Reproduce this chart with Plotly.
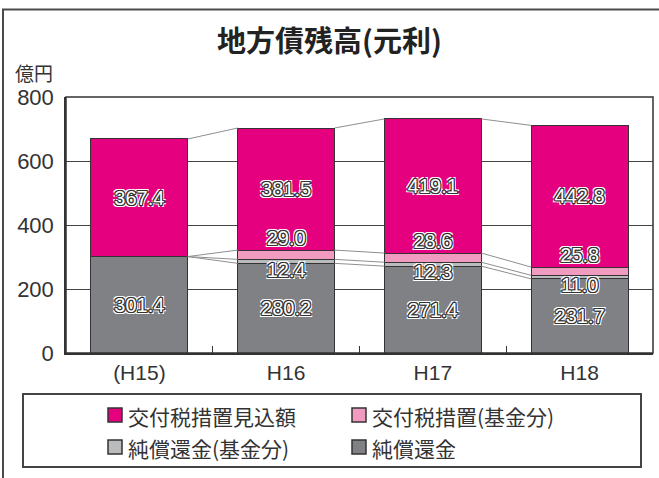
import plotly.graph_objects as go

# ---- data ----
categories = ["(H15)", "H16", "H17", "H18"]
junshokan = [301.4, 280.2, 271.4, 231.7]          # 純償還金
junshokan_kikin = [None, 12.4, 12.3, 11.0]        # 純償還金(基金分)
kofu_kikin = [None, 29.0, 28.6, 25.8]             # 交付税措置(基金分)
kofu_mikomi = [367.4, 381.5, 419.1, 442.8]        # 交付税措置見込額
y_ticks = [0, 200, 400, 600, 800]

names = ["純償還金", "純償還金(基金分)", "交付税措置(基金分)", "交付税措置見込額"]
colors = ["#808184", "#BABBBD", "#F29BC1", "#E5007F"]
series = [junshokan, junshokan_kikin, kofu_kikin, kofu_mikomi]

W, H = 659, 478
ML, MR, MT, MB = 66, 6, 97, 125
PW, PH = W - ML - MR, H - MT - MB
def px(x):  # figure pixel -> paper x
    return (x - ML) / PW
def py(y):  # figure pixel -> paper y
    return (H - MB - y) / PH

xs = list(range(len(categories)))
BW = 0.66
JP = "Noto Sans CJK JP"
NUM = "Liberation Sans, Noto Sans CJK JP"

fig = go.Figure()
for nm, col, vals in zip(names, colors, series):
    fig.add_trace(go.Bar(x=xs, y=vals, name=nm, width=BW,
                         marker=dict(color=col, line=dict(color="#333333", width=1)),
                         showlegend=False))

# cumulative boundaries for connector lines
z = lambda v: 0 if v is None else v
c1 = [z(a) for a in junshokan]
c2 = [a + z(b) for a, b in zip(c1, junshokan_kikin)]
c3 = [a + z(b) for a, b in zip(c2, kofu_kikin)]
c4 = [a + z(b) for a, b in zip(c3, kofu_mikomi)]
for cum in (c1, c2, c3, c4):
    lx, ly = [], []
    for i in range(len(xs) - 1):
        lx += [xs[i] + BW / 2, xs[i + 1] - BW / 2, None]
        ly += [cum[i], cum[i + 1], None]
    fig.add_trace(go.Scatter(x=lx, y=ly, mode="lines", showlegend=False,
                             line=dict(color="#8f8f8f", width=1), hoverinfo="skip"))

# value labels
shadow = ("-1px -1px 0 #333, 1px -1px 0 #333, -1px 1px 0 #333, 1px 1px 0 #333, "
          "0 -1px 0 #333, 0 1px 0 #333, -1px 0 0 #333, 1px 0 0 #333, "
          "-2px -2px 0 #fff, 2px -2px 0 #fff, -2px 2px 0 #fff, 2px 2px 0 #fff")
lab_font = dict(family="Liberation Sans", size=20, color="white", shadow=shadow)
fmt = lambda v: "" if v is None else f"{v:.1f}"
lab_sets = [
    (junshokan, [c / 2 - 7 for c in c1]),
    (junshokan_kikin, [c - 26 for c in c1]),
    (kofu_kikin, [c + 30 for c in c3]),
    (kofu_mikomi, [(a + b) / 2 - 6 for a, b in zip(c3, c4)]),
]
for vals, ys in lab_sets:
    fig.add_trace(go.Scatter(x=xs, y=[None if v is None else y for v, y in zip(vals, ys)],
                             text=[fmt(v) for v in vals], mode="text",
                             textposition="middle center", textfont=lab_font,
                             showlegend=False, hoverinfo="skip"))

shapes = [
    # plot frame
    dict(type="rect", xref="paper", yref="paper", x0=0, x1=1, y0=0, y1=1,
         line=dict(color="#333333", width=1.5), layer="above"),
    # outer frame (top & left visible)
    dict(type="rect", xref="paper", yref="paper", x0=px(3), x1=px(W + 20),
         y0=py(H + 20), y1=py(9.5), line=dict(color="#4a4a4a", width=2)),
    # legend box
    dict(type="rect", xref="paper", yref="paper", x0=px(23), x1=px(641),
         y0=py(467), y1=py(394), line=dict(color="#444444", width=2)),
]
annotations = [
    dict(text="億円", x=px(13), y=py(72), xref="paper", yref="paper",
         xanchor="left", yanchor="middle", showarrow=False,
         font=dict(family=JP, size=19, color="#333333")),
]
# manual legend
leg_order = [(3, 108, 415), (2, 352, 415), (1, 108, 447), (0, 352, 447)]
for idx, lx0, ly0 in leg_order:
    shapes.append(dict(type="rect", xref="paper", yref="paper",
                       x0=px(lx0), x1=px(lx0 + 14), y0=py(ly0 + 7), y1=py(ly0 - 7),
                       fillcolor=colors[idx], line=dict(color="#333333", width=1.5)))
    annotations.append(dict(text=names[idx], x=px(lx0 + 18), y=py(ly0 + 1),
                            xref="paper", yref="paper", xanchor="left", yanchor="middle",
                            showarrow=False, font=dict(family=JP, size=21, color="#333333")))

fig.update_layout(
    width=W, height=H, barmode="stack",
    margin=dict(l=ML, r=MR, t=MT, b=MB),
    paper_bgcolor="white", plot_bgcolor="white",
    title=dict(text="<b>地方債残高(元利)</b>", x=0.5, xanchor="center",
               y=1 - 42 / H, yanchor="middle",
               font=dict(family=JP, size=29, color="#222222")),
    xaxis=dict(range=[-0.5, 3.5], tickvals=xs, ticktext=categories,
               showgrid=False, zeroline=False, showline=True, linecolor="#333333",
               linewidth=2, ticks="",
               tickfont=dict(family=NUM, size=21, color="#333333"),
               minor=dict(tickvals=[0.5, 1.5, 2.5], ticks="inside", ticklen=7,
                          tickcolor="#333333", tickwidth=1)),
    yaxis=dict(range=[0, 800], tickvals=y_ticks, showgrid=True, gridcolor="#444444",
               gridwidth=1, zeroline=False, showline=True, linecolor="#333333",
               linewidth=1.5, ticks="", ticklabelstandoff=6,
               tickfont=dict(family=NUM, size=22, color="#333333")),
    shapes=shapes, annotations=annotations,
)
fig.write_html("out.html", config={"displayModeBar": False},
               post_script="document.body.style.margin='0';document.body.style.overflow='hidden';")
